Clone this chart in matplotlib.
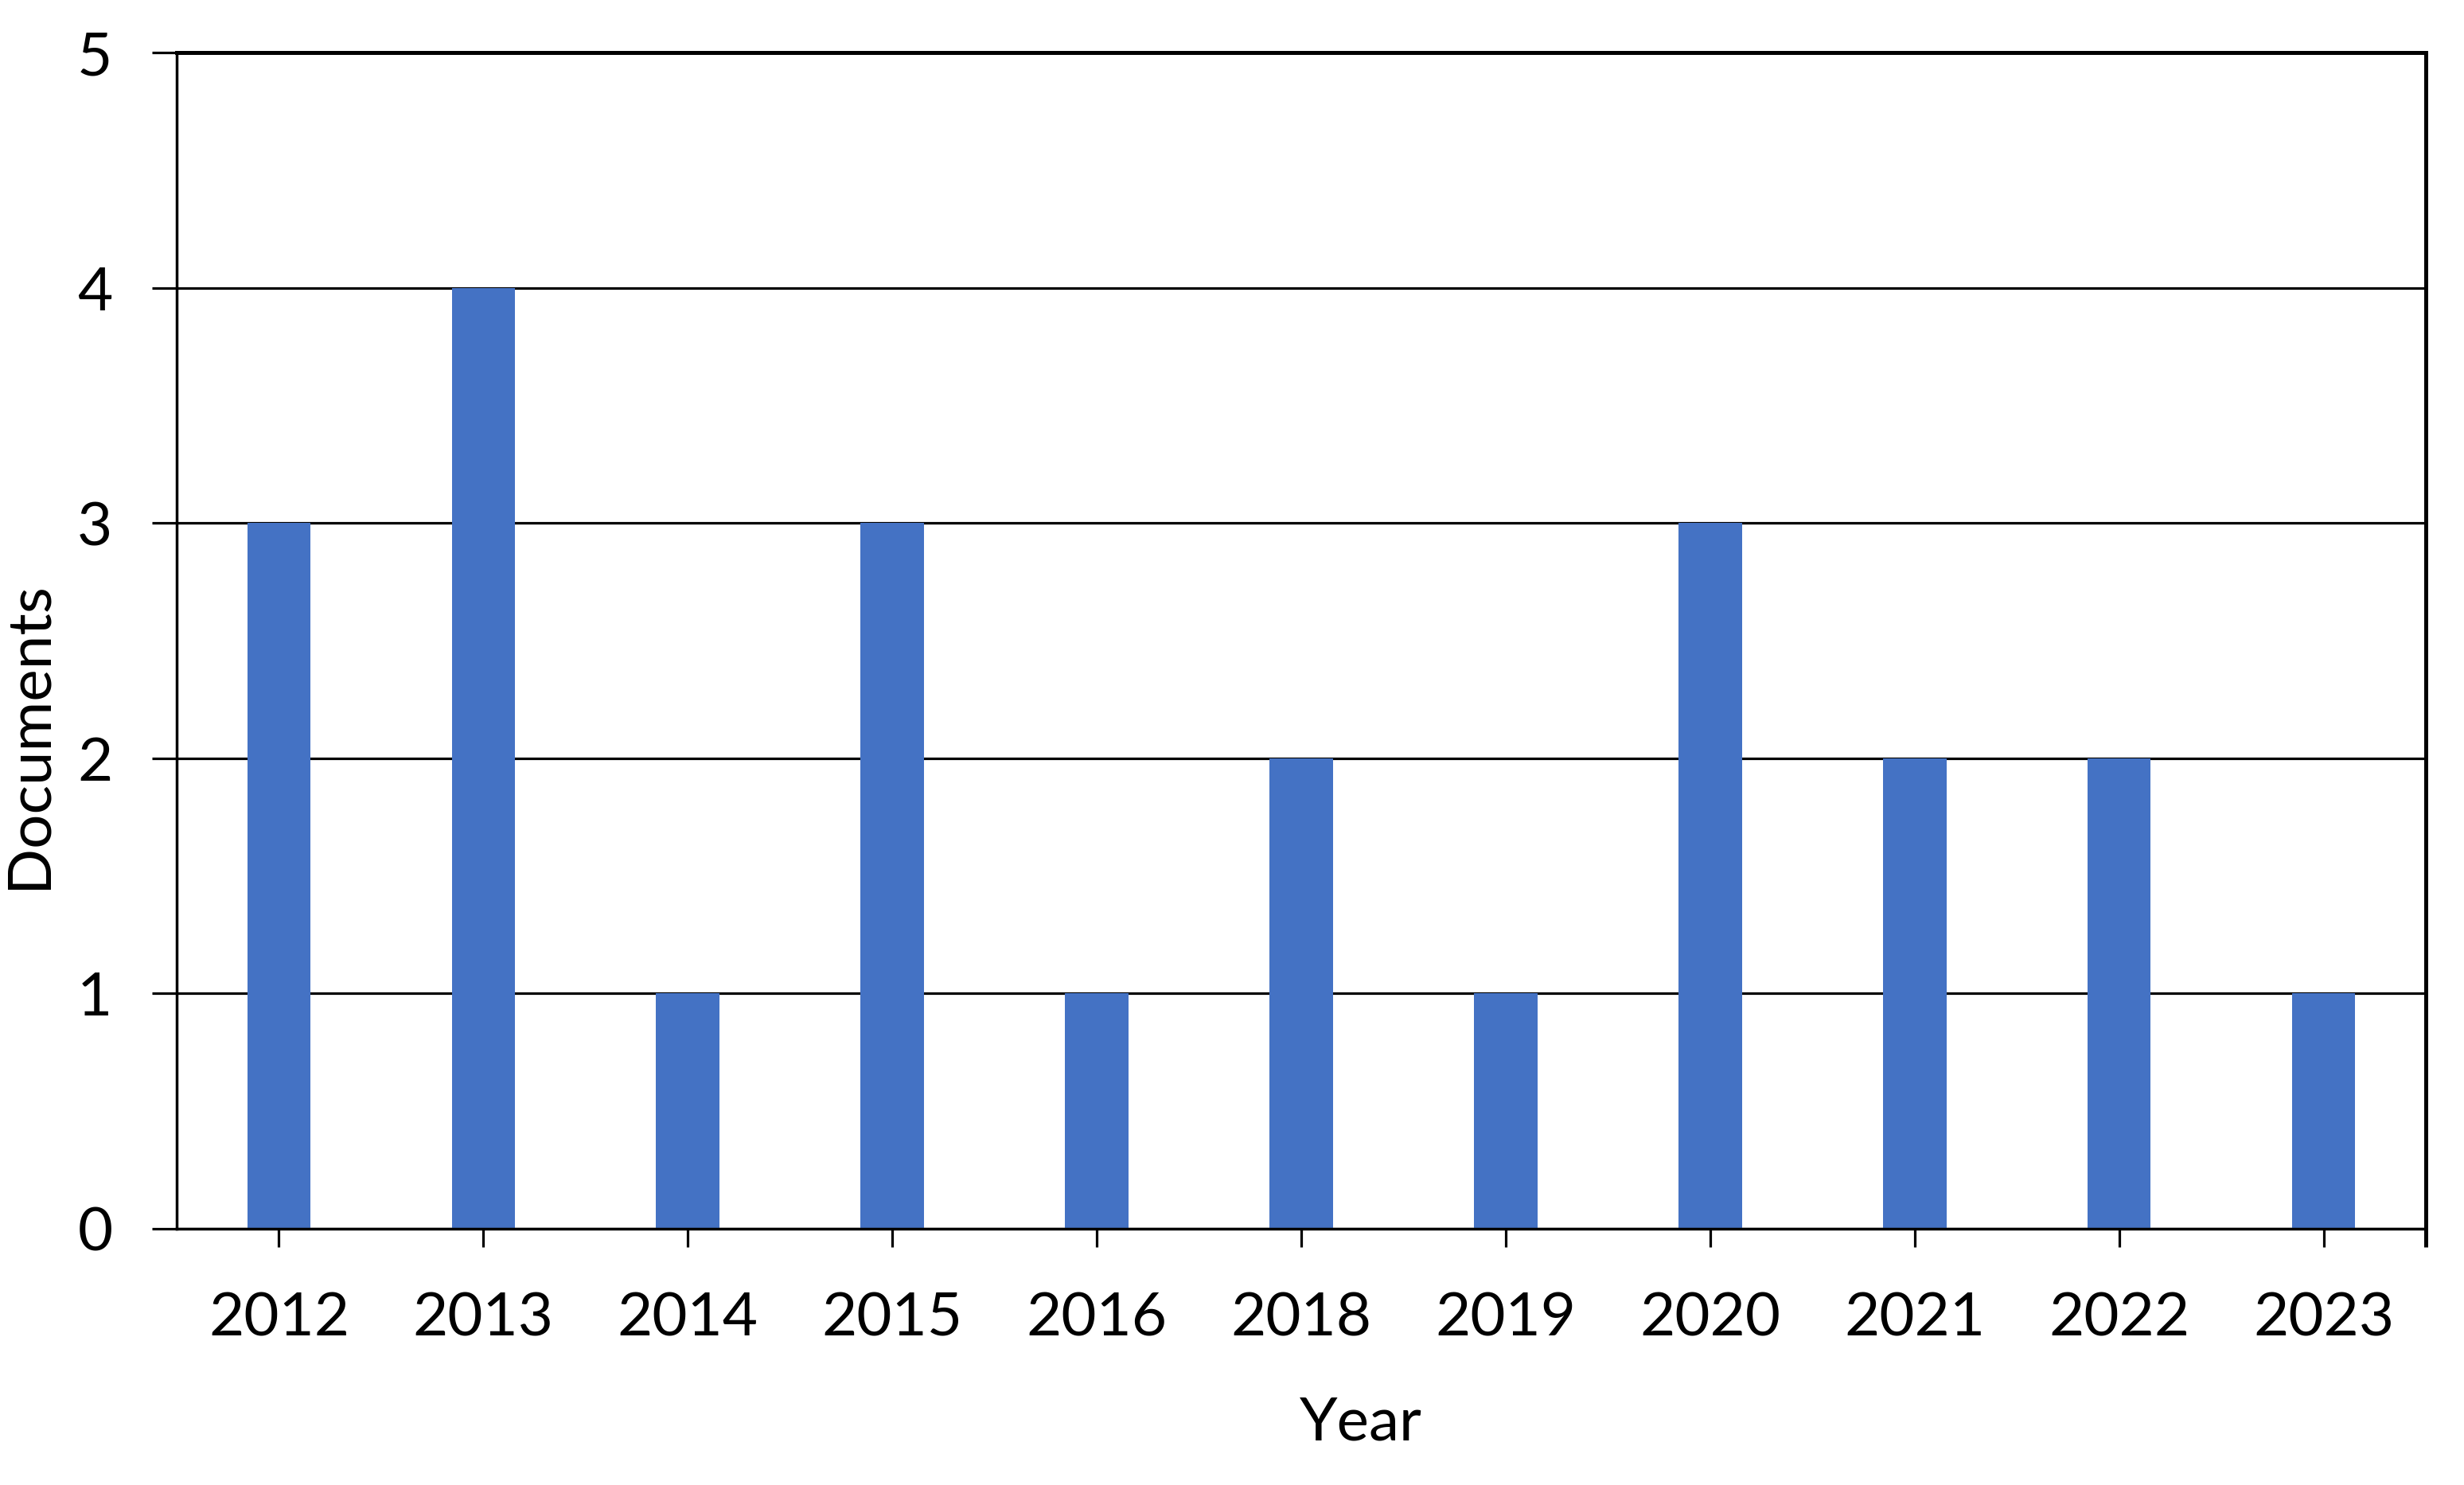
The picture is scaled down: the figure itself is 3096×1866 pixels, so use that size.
import numpy as np
import matplotlib
matplotlib.use("Agg")
import matplotlib.pyplot as plt

# Data
years = ["2012", "2013", "2014", "2015", "2016", "2018", "2019", "2020", "2021", "2022", "2023"]
documents = [3, 4, 1, 3, 1, 2, 1, 3, 2, 2, 1]

plt.rcParams['font.family'] = ['Lato', 'DejaVu Sans']

fig = plt.figure(figsize=(30.96, 18.66), dpi=100)
ax = fig.add_axes([0.0717, 0.1726, 0.9128, 0.792])

x = np.arange(len(years))
ax.bar(x, documents, width=0.31, color="#4472C4", zorder=1)

ax.set_xlim(-0.5, len(years) - 0.5)
ax.set_ylim(0, 5)
ax.set_yticks(range(0, 6))
ax.set_xticks(x)
ax.set_xticklabels(years)

# gridlines drawn below the bars like Excel does
ax.yaxis.grid(True, color="black", linewidth=2.3, zorder=0)
ax.set_axisbelow(True)

for side in ["left", "right", "bottom", "top"]:
    ax.spines[side].set_color("black")
ax.spines["left"].set_linewidth(2.5)
ax.spines["bottom"].set_linewidth(2.5)
ax.spines["top"].set_linewidth(3.6)
ax.spines["right"].set_linewidth(3.6)

ax.tick_params(axis="y", direction="out", length=22, width=2.3, pad=36, labelsize=55)
ax.tick_params(axis="x", direction="out", length=16.5, width=2.3, pad=40, labelsize=55)
# extra tick at the right edge of the category axis
ax.set_xticks([len(years) - 0.5], minor=True)
ax.tick_params(axis="x", which="minor", direction="out", length=16.5, width=3.6)

ax.set_ylabel("Documents", fontsize=55)
ax.set_xlabel("Year", fontsize=55)
ax.yaxis.set_label_coords(-0.0658, 0.42)
ax.yaxis.label.set_verticalalignment("center")
ax.xaxis.set_label_coords(0.5266, -0.165)
ax.xaxis.label.set_verticalalignment("center")

fig.savefig("out.png", dpi=100, facecolor="white")
